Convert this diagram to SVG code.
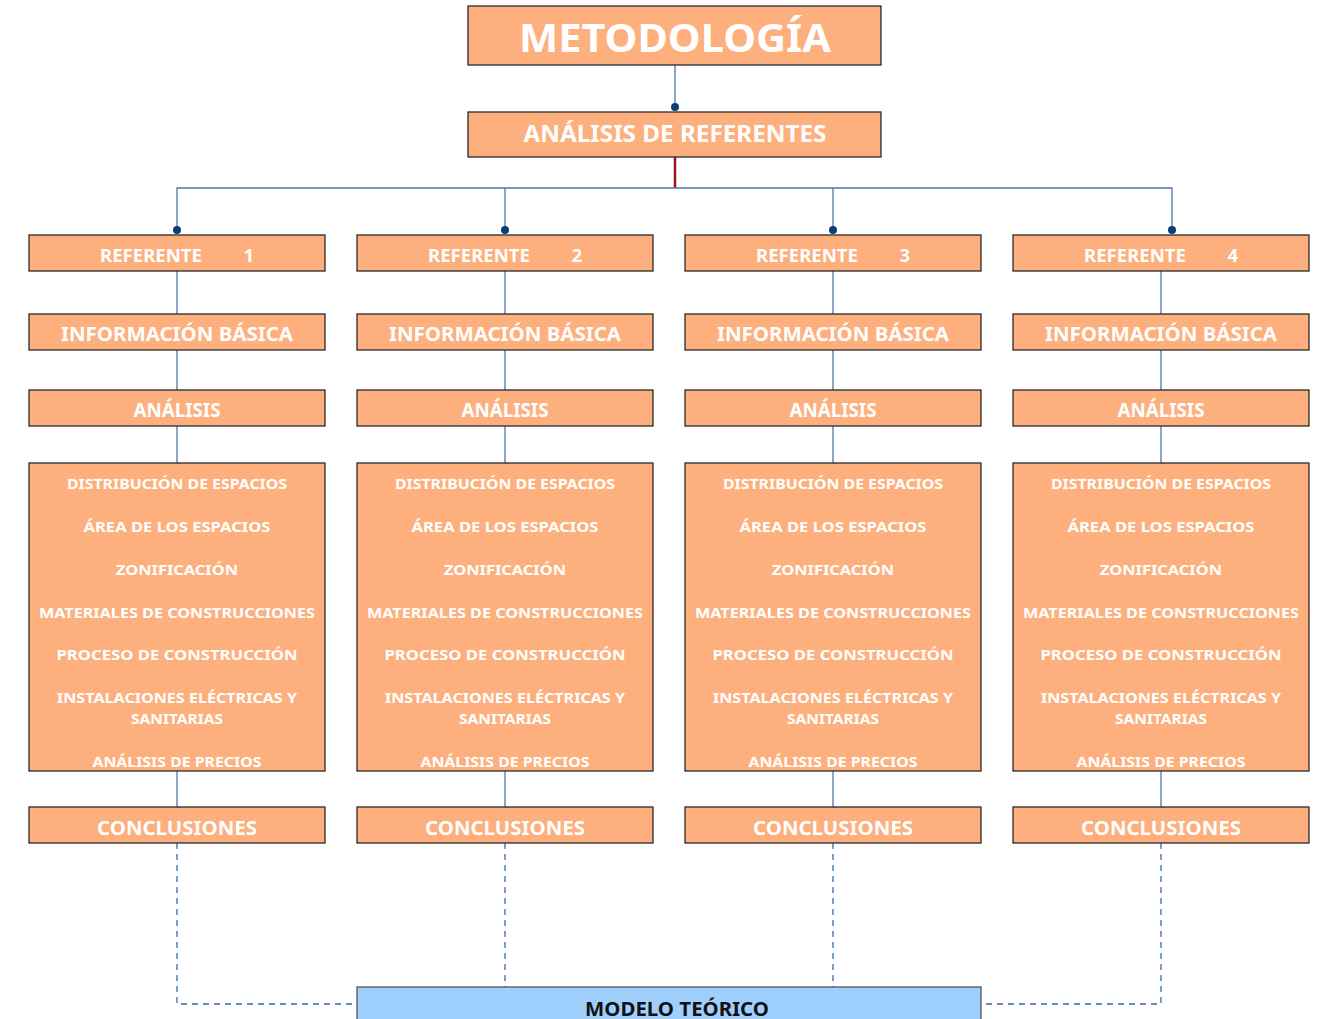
<svg xmlns="http://www.w3.org/2000/svg" width="1322" height="1019" viewBox="0 0 1322 1019">
<style>
.b{fill:#FDB07E;stroke:#2a2a2a;stroke-width:1.3}
.m{fill:#9FD0FD;stroke:#555;stroke-width:1.3}
.t{font-family:"Noto Sans","Open Sans",sans-serif;font-weight:700;fill:#fff;text-anchor:middle}
.c{stroke:#4a78b0;stroke-width:1.3;fill:none}
.d{stroke:#3a6aa8;stroke-width:1.3;fill:none;stroke-dasharray:6 5}
.dot{fill:#0b3d7a}
.h1{font-size:40px}.h2{font-size:23px}.h3{font-size:18px}.h4{font-size:20px}.li{font-size:15px}
</style>
<g id="connectors">
<line class="c" x1="675" y1="65" x2="675" y2="107"/>
<circle class="dot" cx="675" cy="107" r="4"/>
<line x1="675" y1="157" x2="675" y2="188" stroke="#a3151b" stroke-width="2.5"/>
<polyline class="c" points="177,229 177,188 1172,188 1172,229"/>
<line class="c" x1="505" y1="188" x2="505" y2="229"/>
<line class="c" x1="833" y1="188" x2="833" y2="229"/>
<circle class="dot" cx="177" cy="230" r="4"/>
<circle class="dot" cx="505" cy="230" r="4"/>
<circle class="dot" cx="833" cy="230" r="4"/>
<circle class="dot" cx="1172" cy="230" r="4"/>
<line class="c" x1="177" y1="271" x2="177" y2="807"/>
<line class="c" x1="505" y1="271" x2="505" y2="807"/>
<line class="c" x1="833" y1="271" x2="833" y2="807"/>
<line class="c" x1="1161" y1="271" x2="1161" y2="807"/>
<polyline class="d" points="177,843 177,1004 357,1004"/>
<line class="d" x1="505" y1="843" x2="505" y2="987"/>
<line class="d" x1="833" y1="843" x2="833" y2="987"/>
<polyline class="d" points="1161,843 1161,1004 981,1004"/>
</g>
<g id="metodologia"><rect class="b" x="468" y="6" width="413" height="59"/><text class="t h1" x="675" y="52" textLength="312" lengthAdjust="spacingAndGlyphs">METODOLOGÍA</text></g>
<g id="analisis-referentes"><rect class="b" x="468" y="112" width="413" height="45"/><text class="t h2" x="675" y="142" textLength="303" lengthAdjust="spacingAndGlyphs">ANÁLISIS DE REFERENTES</text></g>

<g id="ref1"><rect class="b" x="29" y="235" width="296" height="36"/><text class="t h3" x="151" y="262" textLength="102" lengthAdjust="spacingAndGlyphs">REFERENTE</text><text class="t h3" x="249" y="262">1</text></g>
<g id="ref2"><rect class="b" x="357" y="235" width="296" height="36"/><text class="t h3" x="479" y="262" textLength="102" lengthAdjust="spacingAndGlyphs">REFERENTE</text><text class="t h3" x="577" y="262">2</text></g>
<g id="ref3"><rect class="b" x="685" y="235" width="296" height="36"/><text class="t h3" x="807" y="262" textLength="102" lengthAdjust="spacingAndGlyphs">REFERENTE</text><text class="t h3" x="905" y="262">3</text></g>
<g id="ref4"><rect class="b" x="1013" y="235" width="296" height="36"/><text class="t h3" x="1135" y="262" textLength="102" lengthAdjust="spacingAndGlyphs">REFERENTE</text><text class="t h3" x="1233" y="262">4</text></g>

<g id="info1"><rect class="b" x="29" y="314" width="296" height="36"/><text class="t h4" x="177" y="341" textLength="232" lengthAdjust="spacingAndGlyphs">INFORMACIÓN BÁSICA</text></g>
<g id="info2"><rect class="b" x="357" y="314" width="296" height="36"/><text class="t h4" x="505" y="341" textLength="232" lengthAdjust="spacingAndGlyphs">INFORMACIÓN BÁSICA</text></g>
<g id="info3"><rect class="b" x="685" y="314" width="296" height="36"/><text class="t h4" x="833" y="341" textLength="232" lengthAdjust="spacingAndGlyphs">INFORMACIÓN BÁSICA</text></g>
<g id="info4"><rect class="b" x="1013" y="314" width="296" height="36"/><text class="t h4" x="1161" y="341" textLength="232" lengthAdjust="spacingAndGlyphs">INFORMACIÓN BÁSICA</text></g>

<g id="anal1"><rect class="b" x="29" y="390" width="296" height="36"/><text class="t h4" x="177" y="417" textLength="87" lengthAdjust="spacingAndGlyphs">ANÁLISIS</text></g>
<g id="anal2"><rect class="b" x="357" y="390" width="296" height="36"/><text class="t h4" x="505" y="417" textLength="87" lengthAdjust="spacingAndGlyphs">ANÁLISIS</text></g>
<g id="anal3"><rect class="b" x="685" y="390" width="296" height="36"/><text class="t h4" x="833" y="417" textLength="87" lengthAdjust="spacingAndGlyphs">ANÁLISIS</text></g>
<g id="anal4"><rect class="b" x="1013" y="390" width="296" height="36"/><text class="t h4" x="1161" y="417" textLength="87" lengthAdjust="spacingAndGlyphs">ANÁLISIS</text></g>

<defs>
<g id="items">
<text class="t li" x="0" y="489" textLength="220" lengthAdjust="spacingAndGlyphs">DISTRIBUCIÓN DE ESPACIOS</text>
<text class="t li" x="0" y="532" textLength="187" lengthAdjust="spacingAndGlyphs">ÁREA DE LOS ESPACIOS</text>
<text class="t li" x="0" y="575" textLength="122" lengthAdjust="spacingAndGlyphs">ZONIFICACIÓN</text>
<text class="t li" x="0" y="618" textLength="276" lengthAdjust="spacingAndGlyphs">MATERIALES DE CONSTRUCCIONES</text>
<text class="t li" x="0" y="660" textLength="241" lengthAdjust="spacingAndGlyphs">PROCESO DE CONSTRUCCIÓN</text>
<text class="t li" x="0" y="703" textLength="240" lengthAdjust="spacingAndGlyphs">INSTALACIONES ELÉCTRICAS Y</text>
<text class="t li" x="0" y="724" textLength="92" lengthAdjust="spacingAndGlyphs">SANITARIAS</text>
<text class="t li" x="0" y="767" textLength="169" lengthAdjust="spacingAndGlyphs">ANÁLISIS DE PRECIOS</text>
</g>
</defs>
<g id="lista1"><rect class="b" x="29" y="463" width="296" height="308"/><use href="#items" x="177"/></g>
<g id="lista2"><rect class="b" x="357" y="463" width="296" height="308"/><use href="#items" x="505"/></g>
<g id="lista3"><rect class="b" x="685" y="463" width="296" height="308"/><use href="#items" x="833"/></g>
<g id="lista4"><rect class="b" x="1013" y="463" width="296" height="308"/><use href="#items" x="1161"/></g>

<g id="concl1"><rect class="b" x="29" y="807" width="296" height="36"/><text class="t h4" x="177" y="835" textLength="160" lengthAdjust="spacingAndGlyphs">CONCLUSIONES</text></g>
<g id="concl2"><rect class="b" x="357" y="807" width="296" height="36"/><text class="t h4" x="505" y="835" textLength="160" lengthAdjust="spacingAndGlyphs">CONCLUSIONES</text></g>
<g id="concl3"><rect class="b" x="685" y="807" width="296" height="36"/><text class="t h4" x="833" y="835" textLength="160" lengthAdjust="spacingAndGlyphs">CONCLUSIONES</text></g>
<g id="concl4"><rect class="b" x="1013" y="807" width="296" height="36"/><text class="t h4" x="1161" y="835" textLength="160" lengthAdjust="spacingAndGlyphs">CONCLUSIONES</text></g>

<g id="modelo"><rect class="m" x="357" y="987" width="624" height="40"/><text class="t" x="677" y="1016" font-size="20" style="fill:#111" textLength="184" lengthAdjust="spacingAndGlyphs">MODELO TEÓRICO</text></g>
</svg>
